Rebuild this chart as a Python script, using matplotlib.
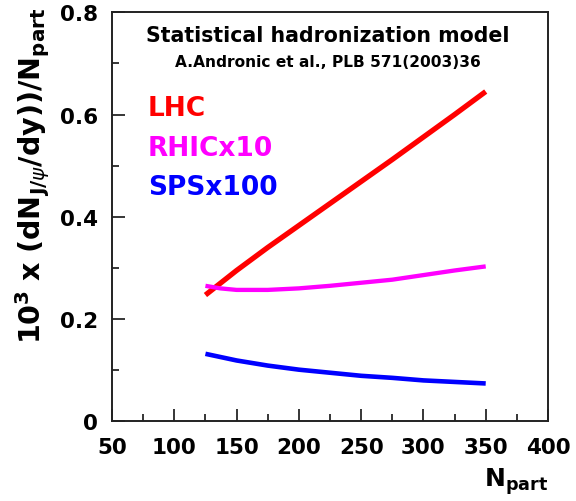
import matplotlib
matplotlib.use("Agg")
import matplotlib.pyplot as plt
from matplotlib.ticker import MultipleLocator, FixedLocator, FixedFormatter

plt.rcParams['font.family'] = ['DejaVu Sans']
plt.rcParams['mathtext.fontset'] = 'dejavusans'

# ---- data ----
npart_lhc = [125, 150, 175, 200, 225, 250, 275, 300, 325, 350]
lhc = [0.247, 0.295, 0.340, 0.383, 0.426, 0.469, 0.512, 0.556, 0.600, 0.645]

npart_rhic = [125, 137, 150, 175, 200, 225, 250, 275, 300, 325, 350]
rhic_x10 = [0.265, 0.260, 0.257, 0.257, 0.260, 0.265, 0.271, 0.277, 0.286, 0.295, 0.303]

npart_sps = [125, 150, 175, 200, 225, 250, 275, 300, 325, 350]
sps_x100 = [0.132, 0.119, 0.109, 0.101, 0.095, 0.089, 0.085, 0.080, 0.077, 0.074]

xticks = [50, 100, 150, 200, 250, 300, 350, 400]
xtick_labels = ["50", "100", "150", "200", "250", "300", "350", "400"]
yticks = [0, 0.2, 0.4, 0.6, 0.8]
ytick_labels = ["0", "0.2", "0.4", "0.6", "0.8"]

W, H = 576, 502
fig = plt.figure(figsize=(W / 100, H / 100), dpi=100)
L, R, T, B = 112, 548, 13.3, 422.3
ax = fig.add_axes([L / W, 1 - B / H, (R - L) / W, (B - T) / H])

ax.plot(npart_lhc, lhc, color='#ff0000', lw=3.8, solid_capstyle='butt')
ax.plot(npart_rhic, rhic_x10, color='#ff00ff', lw=3.1, solid_capstyle='butt')
ax.plot(npart_sps, sps_x100, color='#0000ff', lw=3.3, solid_capstyle='butt')

ax.set_xlim(50, 400)
ax.set_ylim(0, 0.8)
ax.xaxis.set_major_locator(FixedLocator(xticks))
ax.xaxis.set_major_formatter(FixedFormatter(xtick_labels))
ax.xaxis.set_minor_locator(MultipleLocator(25))
ax.yaxis.set_major_locator(FixedLocator(yticks))
ax.yaxis.set_major_formatter(FixedFormatter(ytick_labels))
ax.yaxis.set_minor_locator(MultipleLocator(0.1))

ax.tick_params(which='both', direction='in', top=False, right=False, color='black')
ax.tick_params(which='major', length=9, width=1.1)
ax.tick_params(which='minor', length=5, width=1.1)
ax.tick_params(axis='x', which='major', pad=11, labelsize=15.5)
ax.tick_params(axis='y', which='major', pad=10, labelsize=15.5)
for lab in ax.get_xticklabels() + ax.get_yticklabels():
    lab.set_fontweight('bold')
for sp in ax.spines.values():
    sp.set_linewidth(1.4)
    sp.set_color('#222222')

def px(x, y):
    return x / W, 1 - y / H

fig.text(*px(146, 41.7), "Statistical hadronization model", fontsize=14.8,
         fontweight='bold', ha='left', va='baseline')
fig.text(*px(175, 66.7), "A.Andronic et al., PLB 571(2003)36", fontsize=11.1,
         fontweight='bold', ha='left', va='baseline')
fig.text(*px(148, 116), "LHC", fontsize=19, fontweight='bold', color='#ff0000',
         ha='left', va='baseline')
fig.text(*px(148, 156), "RHICx10", fontsize=19, fontweight='bold', color='#ff00ff',
         ha='left', va='baseline')
fig.text(*px(148, 195), "SPSx100", fontsize=19, fontweight='bold', color='#0000ff',
         ha='left', va='baseline')

fig.text(*px(548, 486.7), r'$\mathbf{N}_{\mathbf{part}}$', fontsize=18,
         ha='right', va='baseline')
fig.text(*px(33, 176),
         r'$\mathbf{10^{3}\ x\ (dN}_{\mathbf{J/}\psi}\mathbf{/dy))/N}_{\mathbf{part}}$',
         fontsize=20.5, rotation=90, ha='center', va='center')

fig.savefig("out.png", dpi=100)
